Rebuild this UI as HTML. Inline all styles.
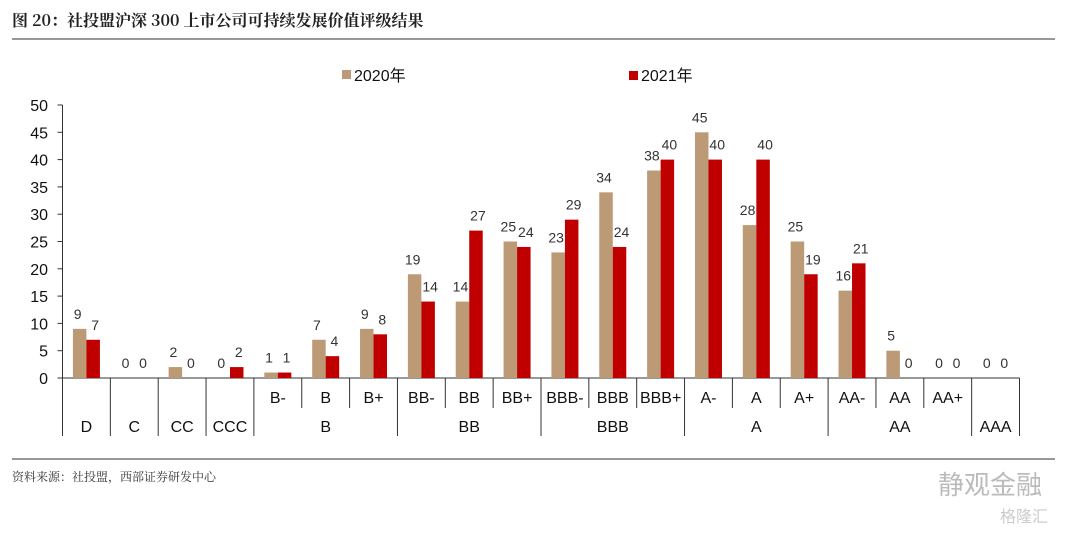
<!DOCTYPE html>
<html><head><meta charset="utf-8"><style>
body{margin:0;background:#fff;width:1080px;height:530px;overflow:hidden;font-family:"Liberation Sans","Noto Sans CJK SC",sans-serif}
</style></head><body>
<svg id="c" width="1080" height="530" xmlns="http://www.w3.org/2000/svg" font-family="Liberation Sans, Noto Sans CJK SC, sans-serif">
<text x="12" y="26" font-size="16" font-weight="bold" fill="#222" font-family="Noto Serif CJK SC, Liberation Sans, sans-serif">图 20：社投盟沪深 300 上市公司可持续发展价值评级结果</text>
<line x1="12" y1="39" x2="1055" y2="39" stroke="#777" stroke-width="1.5"/>
<rect x="342" y="70" width="9" height="9" fill="#BC9A76"/>
<text x="354" y="81" font-size="16" fill="#111">2020年</text>
<rect x="629" y="71" width="9" height="9" fill="#C00000"/>
<text x="641" y="81" font-size="16" fill="#111">2021年</text>
<line x1="12" y1="459" x2="1055" y2="459" stroke="#777" stroke-width="1.5"/>
<text x="12" y="481" font-size="12" fill="#333" font-family="Noto Serif CJK SC, sans-serif">资料来源：社投盟，西部证券研发中心</text>
<text x="938" y="494" font-size="26" fill="#bbb">静观金融</text>
<text x="1000" y="522" font-size="16" fill="#ccc">格隆汇</text>
<g id="plot"></g>
</svg>
<script>
const categories=["D","C","CC","CCC","B-","B","B+","BB-","BB","BB+","BBB-","BBB","BBB+","A-","A","A+","AA-","AA","AA+","AAA"];
const s2020=[9,0,2,0,1,7,9,19,14,25,23,34,38,45,28,25,16,5,0,0];
const s2021=[7,0,0,2,1,4,8,14,27,24,29,24,40,40,40,19,21,0,0,0];
const yTicks=[0,5,10,15,20,25,30,35,40,45,50];
const groups=[["D",0,1],["C",1,1],["CC",2,1],["CCC",3,1],["B",4,3],["BB",7,3],["BBB",10,3],["A",13,3],["AA",16,3],["AAA",19,1]];
const NS="http://www.w3.org/2000/svg",g=document.getElementById('plot');
const X0=62.5,CW=47.85,Y0=378,YS=5.46;
const x=i=>X0+i*CW, y=v=>Y0-v*YS;
function el(t,a,txt){const e=document.createElementNS(NS,t);for(const k in a)e.setAttribute(k,a[k]);if(txt!==undefined)e.textContent=txt;g.appendChild(e);return e;}
let e=el('line',{x1:X0,y1:y(50),x2:X0,y2:Y0,stroke:'#333'});

yTicks.forEach(t=>{
 let l=el('line',{x1:X0-5,x2:X0,y1:y(t),y2:y(t),stroke:'#333'});
 
 let tx=el('text',{x:48,y:y(t)+6,'font-size':16,'text-anchor':'end',fill:'#111'},t);
 
});
e=el('line',{x1:X0,y1:Y0,x2:x(categories.length),y2:Y0,stroke:'#333'});

const BW=13.5;
categories.forEach((c,i)=>{
 const cx=x(i)+CW/2;
 let b=el('rect',{x:cx-BW,y:y(s2020[i]),width:BW,height:s2020[i]*YS,fill:'#BC9A76'});
 
 let r=el('rect',{x:cx,y:y(s2021[i]),width:BW,height:s2021[i]*YS,fill:'#C00000'});
 
 let l1=el('text',{x:cx-BW/2-2,y:y(s2020[i])-10,'font-size':14,'text-anchor':'middle',fill:'#333'},s2020[i]);
 
 let l2=el('text',{x:cx+BW/2+2,y:y(s2021[i])-10,'font-size':14,'text-anchor':'middle',fill:'#333'},s2021[i]);
 
});
groups.forEach(([name,st,n])=>{
 const single=n===1;
 if(!single){
  for(let k=0;k<n;k++){
   const i=st+k;
   let t=el('text',{x:x(i)+CW/2,y:403,'font-size':16,'text-anchor':'middle',fill:'#111'},categories[i]);
   
   if(k>0){let s=el('line',{x1:x(i),x2:x(i),y1:Y0,y2:408,stroke:'#333'});
    }
  }
 }
 let gl=el('text',{x:x(st)+n*CW/2,y:432,'font-size':16,'text-anchor':'middle',fill:'#111'},name);
 
 let s=el('line',{x1:x(st),x2:x(st),y1:Y0,y2:436,stroke:'#333'});
 
});
e=el('line',{x1:x(20),x2:x(20),y1:Y0,y2:436,stroke:'#333'});

</script>
</body></html>
